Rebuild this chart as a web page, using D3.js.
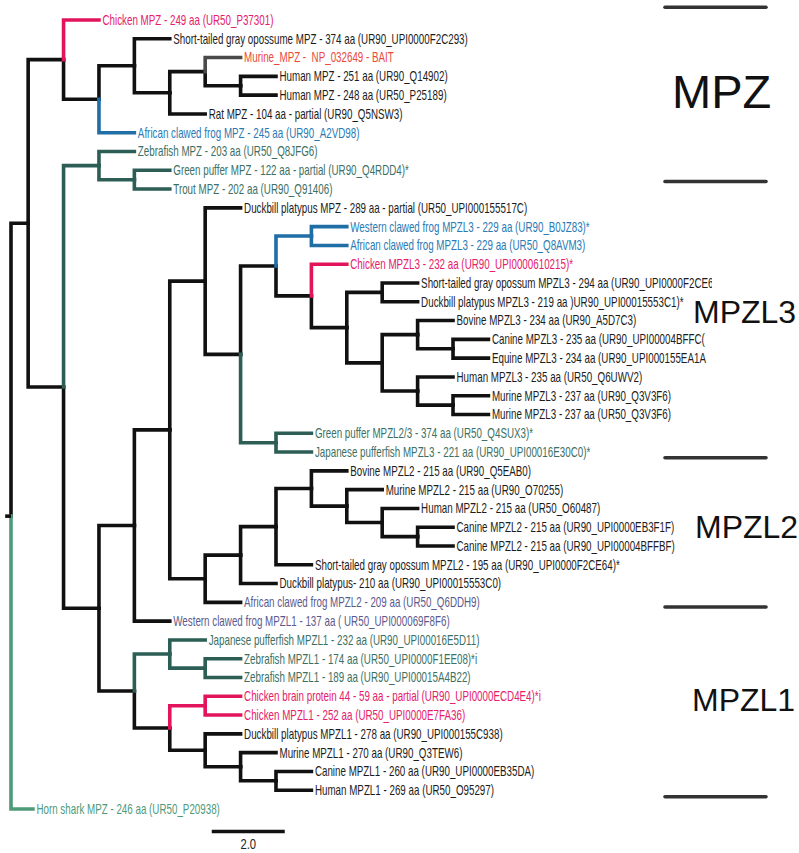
<!DOCTYPE html>
<html>
<head>
<meta charset="utf-8">
<script src="https://cdn.jsdelivr.net/npm/d3@7"></script>
<style>
  html, body { margin: 0; padding: 0; background: #ffffff; }
  svg { display: block; }
</style>
</head>
<body>
<svg id="chart" width="799" height="853"></svg>
<script>
// ---------------- DATA ----------------
const leafLabels = [
  "Chicken MPZ - 249 aa (UR50_P37301)",
  "Short-tailed gray opossume MPZ - 374 aa (UR90_UPI0000F2C293)",
  "Murine_MPZ -  NP_032649 - BAIT",
  "Human MPZ - 251 aa (UR90_Q14902)",
  "Human MPZ - 248 aa (UR50_P25189)",
  "Rat MPZ - 104 aa - partial (UR90_Q5NSW3)",
  "African clawed frog MPZ - 245 aa (UR90_A2VD98)",
  "Zebrafish MPZ - 203 aa (UR50_Q8JFG6)",
  "Green puffer MPZ - 122 aa - partial (UR90_Q4RDD4)*",
  "Trout MPZ - 202 aa (UR90_Q91406)",
  "Duckbill platypus MPZ - 289 aa - partial (UR50_UPI000155517C)",
  "Western clawed frog MPZL3 - 229 aa (UR90_B0JZ83)*",
  "African clawed frog MPZL3 - 229 aa (UR50_Q8AVM3)",
  "Chicken MPZL3 - 232 aa (UR90_UPI0000610215)*",
  "Short-tailed gray opossum MPZL3 - 294 aa (UR90_UPI0000F2CE6",
  "Duckbill platypus MPZL3 - 219 aa )UR90_UPI00015553C1)*",
  "Bovine MPZL3 - 234 aa (UR90_A5D7C3)",
  "Canine MPZL3 - 235 aa (UR90_UPI00004BFFC(",
  "Equine MPZL3 - 234 aa (UR90_UPI000155EA1A",
  "Human MPZL3 - 235 aa (UR50_Q6UWV2)",
  "Murine MPZL3 - 237 aa (UR90_Q3V3F6)",
  "Murine MPZL3 - 237 aa (UR50_Q3V3F6)",
  "Green puffer MPZL2/3 - 374 aa (UR50_Q4SUX3)*",
  "Japanese pufferfish MPZL3 - 221 aa (UR90_UPI00016E30C0)*",
  "Bovine MPZL2 - 215 aa (UR90_Q5EAB0)",
  "Murine MPZL2 - 215 aa (UR90_O70255)",
  "Human MPZL2 - 215 aa (UR50_O60487)",
  "Canine MPZL2 - 215 aa (UR90_UPI0000EB3F1F)",
  "Canine MPZL2 - 215 aa (UR90_UPI00004BFFBF)",
  "Short-tailed gray opossum MPZL2 - 195 aa (UR90_UPI0000F2CE64)*",
  "Duckbill platypus- 210 aa (UR90_UPI00015553C0)",
  "African clawed frog MPZL2 - 209 aa (UR50_Q6DDH9)",
  "Western clawed frog MPZL1 - 137 aa ( UR50_UPI000069F8F6)",
  "Japanese pufferfish MPZL1 - 232 aa (UR90_UPI00016E5D11)",
  "Zebrafish MPZL1 - 174 aa (UR50_UPI0000F1EE08)*i",
  "Zebrafish MPZL1 - 189 aa (UR90_UPI00015A4B22)",
  "Chicken brain protein 44 - 59 aa - partial (UR90_UPI0000ECD4E4)*i",
  "Chicken MPZL1 - 252 aa (UR50_UPI0000E7FA36)",
  "Duckbill platypus MPZL1 - 278 aa (UR90_UPI000155C938)",
  "Murine MPZL1 - 270 aa (UR90_Q3TEW6)",
  "Canine MPZL1 - 260 aa (UR90_UPI0000EB35DA)",
  "Human MPZL1 - 269 aa (UR50_O95297)",
  "Horn shark MPZ - 246 aa (UR50_P20938)"
];

// label colour key per leaf
const leafColorKeys = [
  "pink","black","bait","black","black","black","blue","teal","teal","teal",
  "black","blue","blue","pink","black","black","black","black","black","black",
  "black","black","teal","teal","black","black","black","black","black","black",
  "black","purple","purple","teal","teal","teal","pink","pink","black","black",
  "black","black","green"
];

// tree topology (leaf indices, nested pairs)
const mpzTetrapods = [0, [[1, [[2, [3, 4]], 5]], 6]];
const mpzFish      = [7, [8, 9]];
const mpzl3Clade   = [10, [[[11, 12], [13, [[14, 15], [[16, [17, 18]], [19, [20, 21]]]]]], [22, 23]]];
const mpzl2Clade   = [[[[24, [25, [26, [27, 28]]]], 29], 30], 31];
const mpzl1Clade   = [[33, [34, 35]], [[36, 37], [38, [39, [40, 41]]]]];
const topology = [[mpzTetrapods, [mpzFish, [[[mpzl3Clade, mpzl2Clade], 32], mpzl1Clade]]], 42];

// branch lengths (substitution units)
const defaultBranch = 0.97;
const rootBranchLengths = [0.47, 0.6];
const rootStubLength = 0.16;

// coloured clades (branch colours), identified by their leaf sets
const cladeColors = [
  { leaves: [0], key: "pink" },
  { leaves: [2], key: "gray" },
  { leaves: [6], key: "blue" },
  { leaves: [7, 8, 9], key: "teal" },
  { leaves: [11, 12], key: "blue" },
  { leaves: [13], key: "pink" },
  { leaves: [22, 23], key: "teal" },
  { leaves: [33, 34, 35], key: "teal" },
  { leaves: [36, 37], key: "pink" },
  { leaves: [42], key: "green" }
];

// group annotations (row index of label baseline) and separators (row index)
const groupNames = ["MPZ", "MPZL3", "MPZL2", "MPZL1"];
const groupRows = [4.68, 16.13, 27.6, 36.8];
const separatorRows = [-0.68, 8.6, 23.3, 31.25, 41.35];

const scaleBarValue = 2.0;
const scaleBarLabel = "2.0";

// ---------------- STYLE ----------------
const branchColor = { black: "#111111", pink: "#e2145c", gray: "#4a4a4a", blue: "#1f6ea6", teal: "#2c5e55", green: "#4f9a79" };
const labelColor  = { black: "#1c1c1c", pink: "#e5206a", bait: "#ea4a3a", blue: "#2a7ab4", teal: "#3d7064", purple: "#5b5a8e", green: "#4f9a79" };

const W = 799, H = 853;
const svg = d3.select("#chart");

const y = d3.scaleLinear().domain([0, leafLabels.length - 1]).range([20, 809]);
const x = d3.scaleLinear().domain([0, 2]).range([11, 84]); // 36.5 px per unit

// ---------------- TREE ----------------
const root = d3.hierarchy(topology, d => Array.isArray(d) ? d : null);
root.dist = 0;
root.children.forEach((c, i) => c.len = rootBranchLengths[i]);
root.eachBefore(n => {
  if (n.parent) {
    if (n.len === undefined) n.len = defaultBranch;
    n.dist = n.parent.dist + n.len;
  }
});
root.eachAfter(n => {
  if (!n.children) n.yv = y(n.data);
  else n.yv = (n.children[0].yv + n.children[n.children.length - 1].yv) / 2;
  n.leafSet = n.children ? n.children.flatMap(c => c.leafSet) : [n.data];
});
// colours
const sameSet = (a, b) => a.length === b.length && a.every(v => b.includes(v));
root.eachBefore(n => {
  const spec = cladeColors.find(c => sameSet(c.leaves, n.leafSet));
  n.ckey = spec ? spec.key : (n.parent && n.parent.ckey !== "black" ? n.parent.ckey : "black");
});
root.ckey = "black";

const links = root.links().sort((a, b) => (a.target.ckey === "black" ? 0 : 1) - (b.target.ckey === "black" ? 0 : 1));

const gTree = svg.append("g");
gTree.selectAll("path.branch")
  .data(links)
  .join("path")
  .attr("class", "branch")
  .attr("d", l => `M${x(l.source.dist)},${l.source.yv}V${l.target.yv}H${x(l.target.dist)}`)
  .attr("fill", "none")
  .attr("stroke", l => branchColor[l.target.ckey])
  .attr("stroke-width", 3.6)
  .attr("stroke-linecap", "square")
  .attr("stroke-linejoin", "miter");

// root stub
gTree.append("line")
  .attr("x1", x(-rootStubLength)).attr("x2", x(0))
  .attr("y1", root.yv).attr("y2", root.yv)
  .attr("stroke", branchColor.black).attr("stroke-width", 3.6);

// ---------------- LABELS ----------------
const condense = 0.7;
const labelFont = "'Liberation Sans', Arial, Helvetica, sans-serif";
const gLabels = svg.append("g");
gLabels.selectAll("text")
  .data(root.leaves())
  .join("text")
  .attr("transform", d => `translate(${x(d.dist) + 3.5},${d.yv}) scale(${condense},1)`)
  .attr("dy", "0.35em")
  .attr("font-family", labelFont)
  .attr("font-size", 14)
  .attr("fill", d => labelColor[leafColorKeys[d.data]])
  .attr("xml:space", "preserve")
  .text(d => leafLabels[d.data]);

// white panel behind the MPZL3 annotation (clips long labels as in the figure)
svg.append("rect")
  .attr("x", 712).attr("y", y(13.3))
  .attr("width", W - 712).attr("height", y(18.4) - y(13.3))
  .attr("fill", "#ffffff");

// ---------------- GROUP ANNOTATIONS ----------------
const groupX = [672, 693, 695, 692];
const groupSize = [47, 32, 32, 32];
svg.append("g").selectAll("text")
  .data(groupNames)
  .join("text")
  .attr("x", (d, i) => groupX[i])
  .attr("y", (d, i) => y(groupRows[i]))
  .attr("font-family", labelFont)
  .attr("font-size", (d, i) => groupSize[i])
  .attr("fill", "#111")
  .text(d => d);

svg.append("g").selectAll("line")
  .data(separatorRows)
  .join("line")
  .attr("x1", 665).attr("x2", 766)
  .attr("y1", d => y(d)).attr("y2", d => y(d))
  .attr("stroke", "#333")
  .attr("stroke-width", 3.6)
  .attr("stroke-linecap", "round");

// ---------------- SCALE BAR ----------------
const barStart = 5.5;
const barY = y(43.2);
svg.append("line")
  .attr("x1", x(barStart)).attr("x2", x(barStart + scaleBarValue))
  .attr("y1", barY).attr("y2", barY)
  .attr("stroke", "#111").attr("stroke-width", 3.6);
svg.append("text")
  .attr("transform", `translate(${(x(barStart) + x(barStart + scaleBarValue)) / 2},${barY + 17}) scale(0.75,1)`)
  .attr("text-anchor", "middle")
  .attr("font-family", labelFont)
  .attr("font-size", 15)
  .attr("fill", "#222")
  .text(scaleBarLabel);
</script>
</body>
</html>
